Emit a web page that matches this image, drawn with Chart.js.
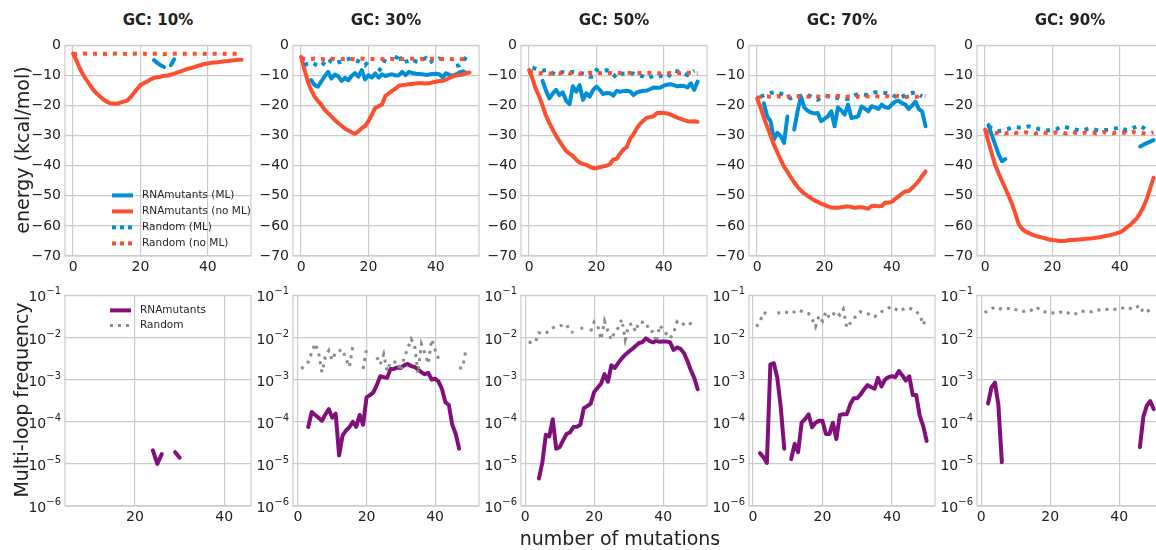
<!DOCTYPE html>
<html>
<head>
<meta charset="utf-8">
<script src="https://cdn.jsdelivr.net/npm/chart.js@4.4.1/dist/chart.umd.min.js"></script>
<style>
  body { margin: 0; width: 1156px; height: 550px; overflow: hidden; background: #fff;
         font-family: "DejaVu Sans", sans-serif; color: #222; position: relative; }
  canvas { position: absolute; }
  .title { position: absolute; font-weight: bold; font-size: 15px; transform: translate(-50%, -50%); white-space: nowrap; }
  .ylab { position: absolute; font-size: 19px; transform: translate(-50%, -50%) rotate(-90deg); white-space: nowrap; }
  .xlab { position: absolute; font-size: 19px; transform: translate(-50%, -50%); white-space: nowrap; }
</style>
</head>
<body>
<script>
// x values: number of mutations
const mutations = [0,1,2,3,4,5,6,7,8,9,10,11,12,13,14,15,16,17,18,19,20,21,22,23,24,25,26,27,28,29,30,
  31,32,33,34,35,36,37,38,39,40,41,42,43,44,45,46,47,48,49,50];
const gcTitles = ["GC: 10%", "GC: 30%", "GC: 50%", "GC: 70%", "GC: 90%"];
const energyTicks = [0, -10, -20, -30, -40, -50, -60, -70];
const freqTicks = [1e-6, 1e-5, 1e-4, 1e-3, 1e-2, 1e-1];
const mutationTicks = [0, 20, 40];

// ---- energy (kcal/mol) ----
const mutantsML10 = [
  null, null, null, null, null, null, null, null, null, null,
  null, null, null, null, null, null, null, null, null, null,
  null, null, null, null, -4.9, -5.8, -6.6, -7.2, null, -6.6,
  -4.6, null, null, null, null, null, null, null, null, null,
  null, null, null, null, null, null, null, null, null, null,
  null];
const mutantsNoML10 = [
  -2.7, -5.0, -7.7, -9.8, -11.5, -13.2, -14.8, -16.0, -17.0, -18.0,
  -18.7, -19.2, -19.3, -19.4, -19.0, -18.7, -18.4, -17.3, -15.9, -14.5,
  -13.2, -12.6, -12.0, -11.3, -10.8, -10.6, -10.4, -10.1, -10.1, -9.7,
  -9.4, -9.0, -8.6, -8.2, -7.8, -7.5, -7.2, -6.8, -6.5, -6.2,
  -6.0, -5.8, -5.7, -5.6, -5.4, -5.3, -5.2, -5.0, -4.9, -4.8,
  -4.8];
const randomML10 = [];
const randomNoML10 = [
  -2.8, -2.9, -2.8, -2.7, -2.8, -2.9, -2.8, -2.8, -2.7, -2.8,
  -2.9, -2.8, -2.8, -2.7, -2.8, -2.8, -2.9, -2.8, -2.8, -2.7,
  -2.8, -2.8, -2.9, -2.8, -2.8, -2.7, -2.8, -2.9, -2.8, -2.8,
  -2.8, -2.7, -2.8, -2.8, -2.9, -2.8, -2.8, -2.8, -2.7, -2.8,
  -2.9, -2.8, -2.8, -2.8, -2.7, -2.8, -2.9, -2.8, -2.8, -2.9,
  -2.9];

const mutantsML30 = [
  null, null, null, -11.5, -13.2, -13.7, -12.0, -10.3, -8.8, -11.0,
  -9.7, -10.2, -11.8, -10.8, -11.6, -10.2, -9.2, -10.4, -8.2, -11.3,
  -9.9, -10.7, -9.3, -10.7, -9.6, -10.2, -9.8, -9.6, -10.0, -9.9,
  -8.8, -9.9, -8.8, -9.2, -9.4, -9.5, -9.6, -9.8, -9.7, -9.5,
  -9.4, -9.6, -10.6, -9.3, -9.8, -10.1, -9.6, -9.0, -8.6, -9.1,
  null];
const mutantsNoML30 = [
  -3.8, -8.0, -12.0, -14.8, -17.0, -18.5, -19.7, -21.4, -22.5, -23.6,
  -24.8, -25.8, -26.7, -27.6, -28.3, -28.9, -29.4, -28.6, -27.5, -26.8,
  -25.2, -23.0, -20.8, -20.2, -19.7, -16.8, -16.0, -15.1, -14.4, -13.4,
  -13.2, -13.1, -12.9, -12.8, -12.7, -12.6, -12.6, -12.7, -12.6, -12.3,
  -12.1, -11.8, -11.8, -11.4, -10.8, -10.4, -10.0, -9.8, -9.7, -9.2,
  -9.0];
const randomML30 = [
  null, -6.6, -6.0, -5.6, -6.2, -6.8, -7.0, -5.5, -4.4, -5.5,
  -6.0, -5.6, -5.4, -5.0, -4.6, -4.2, -4.8, -5.3, -6.0, -6.6,
  -5.2, -4.4, null, -8.6, -7.1, -4.4, -4.5, null, -4.6, -2.7,
  -6.0, -5.4, -5.1, -4.6, -5.3, -5.5, -4.8, -4.2, -5.8, -5.2,
  -5.2, -4.4, -4.6, null, null, null, -6.8, -6.6, -5.6, -3.8,
  null];
const randomNoML30 = [
  -4.3, -4.5, -4.6, -4.5, -4.4, -4.6, -4.5, -4.7, -4.5, -4.4,
  -4.6, -4.5, -4.5, -4.6, -4.4, -4.5, -4.7, -4.5, -4.4, -4.6,
  -4.5, -4.5, -4.6, -4.4, -4.5, -4.7, -4.5, -4.5, -4.6, -4.4,
  -4.5, -4.6, -4.5, -4.4, -4.5, -4.6, -4.5, -4.7, -4.5, -4.4,
  -4.5, -4.6, -4.5, -4.5, -4.4, -4.6, -4.5, -4.5, -4.6, -4.4,
  -4.5];

const mutantsML50 = [
  null, null, null, null, -11.8, -15.0, -17.6, -16.0, -14.8, -16.5,
  -15.6, -18.4, -19.5, -13.6, -15.4, -13.2, -18.1, -15.9, -17.0, -14.8,
  -13.7, -14.8, -16.2, -15.8, -15.9, -16.7, -15.1, -15.4, -15.2, -15.1,
  -15.3, -16.5, -15.6, -15.3, -15.1, -15.0, -14.5, -14.0, -14.1, -14.0,
  -13.4, -13.0, -12.9, -13.2, -13.6, -13.4, -13.5, -14.0, -12.6, -14.8,
  -12.0];
const mutantsNoML50 = [
  -8.2, -11.0, -14.5, -17.0, -20.0, -23.3, -25.8, -28.0, -30.0, -31.8,
  -33.5, -35.1, -36.0, -36.8, -38.0, -39.0, -39.4, -39.7, -40.3, -40.8,
  -40.8, -40.5, -40.2, -40.0, -39.5, -37.9, -37.7, -36.0, -34.6, -33.8,
  -31.0, -29.5, -27.5, -26.0, -25.0, -24.0, -23.8, -23.5, -22.5, -22.4,
  -22.5, -22.6, -23.0, -23.5, -24.0, -24.4, -24.8, -25.2, -25.3, -25.2,
  -25.4];
const randomML50 = [
  null, -7.4, -7.8, -8.2, -8.4, -8.2, -8.4, -9.2, -9.7, -9.2,
  -8.8, -8.8, -9.0, -8.8, -8.9, -9.3, -9.3, -9.6, -10.4, -10.4,
  -8.2, -8.6, -8.4, -8.2, -9.0, -9.7, -10.8, -10.0, -9.3, -9.3,
  -9.3, -9.3, -9.8, -10.1, -10.4, -11.0, -10.5, -10.1, -10.4, -10.1,
  -10.5, -10.8, -9.5, -8.4, -8.6, -8.8, -9.3, -9.9, -9.2, -8.4,
  null];
const randomNoML50 = [
  -8.6, -9.0, -9.2, -9.3, -9.1, -9.2, -9.4, -9.2, -9.1, -9.3,
  -9.2, -9.0, -9.3, -9.2, -9.1, -9.4, -9.2, -9.3, -9.1, -9.2,
  -9.0, -9.2, -9.3, -9.1, -9.2, -9.4, -9.1, -9.2, -9.3, -9.0,
  -9.2, -9.1, -9.3, -9.2, -9.4, -9.2, -9.1, -9.0, -9.2, -9.3,
  -9.2, -9.4, -9.1, -9.2, -9.0, -9.3, -9.2, -9.1, -9.2, -9.3,
  -9.2];

const mutantsML70 = [
  null, null, -19.2, -23.6, -25.2, -31.3, -29.1, -30.2, -32.4, -23.6,
  null, -28.0, -22.0, -17.0, -20.6, -21.7, -22.3, -22.6, -22.5, -25.2,
  -24.4, -23.6, -21.9, -26.9, -20.6, -21.6, -23.0, -19.7, -24.1, -23.9,
  -23.6, -20.3, -21.0, -21.9, -20.2, -20.6, -21.1, -19.7, -20.5, -20.8,
  -19.6, -18.7, -18.4, -19.2, -19.7, -21.1, -20.0, -18.7, -21.1, -22.0,
  -26.9];
const mutantsNoML70 = [
  -17.6, -20.5, -24.0, -27.0, -30.0, -33.0, -35.5, -38.0, -40.3, -42.0,
  -43.8, -45.5, -47.0, -48.2, -49.2, -50.0, -50.8, -51.5, -52.0, -52.6,
  -53.0, -53.5, -53.9, -54.0, -54.0, -53.8, -53.6, -53.5, -53.7, -54.0,
  -53.8, -53.8, -54.0, -54.3, -53.4, -53.3, -53.5, -53.4, -52.2, -52.3,
  -52.0, -51.0, -50.2, -49.3, -48.5, -48.4, -47.4, -46.3, -45.0, -43.4,
  -41.9];
const randomML70 = [
  null, -17.0, -16.6, -16.2, -15.8, -15.6, -15.4, -16.0, -16.5, -17.0,
  -17.6, -17.2, -16.9, -16.7, -16.6, -16.5, -17.0, -17.6, -18.1, -17.4,
  -16.7, -16.8, -17.0, -17.3, -17.5, -17.6, -17.7, -17.8, -17.0, -16.5,
  -16.2, -16.3, -16.4, -16.5, -16.0, -15.6, -15.6, -15.6, -15.8, -16.0,
  -16.2, -17.0, -17.6, -17.1, -16.5, -16.1, -15.8, -15.6, -16.3, -17.0,
  null];
const randomNoML70 = [
  -17.4, -17.2, -17.0, -16.9, -17.1, -17.0, -16.8, -17.1, -17.2, -17.0,
  -16.9, -17.1, -17.0, -17.2, -16.9, -17.0, -17.1, -16.8, -17.0, -17.2,
  -17.0, -16.9, -17.1, -17.0, -16.8, -17.0, -17.2, -17.0, -16.9, -17.1,
  -17.0, -17.2, -16.9, -17.0, -17.1, -16.8, -17.0, -17.2, -17.0, -16.9,
  -17.1, -17.0, -16.8, -17.0, -17.2, -17.0, -16.9, -17.1, -17.0, -16.8,
  -16.9];

const mutantsML90 = [
  null, -26.5, -29.8, -33.0, -36.2, -38.5, -37.8, null, null, null,
  null, null, null, null, null, null, null, null, null, null,
  null, null, null, null, null, null, null, null, null, null,
  null, null, null, null, null, null, null, null, null, null,
  null, null, null, null, null, null, -33.6, -33.0, -32.5, -32.0,
  -31.5];
const mutantsNoML90 = [
  -28.0, -32.0, -36.0, -39.8, -42.5, -45.0, -47.5, -50.0, -52.7, -56.0,
  -59.5, -61.0, -61.9, -62.4, -62.9, -63.3, -63.6, -63.9, -64.2, -64.5,
  -64.7, -64.8, -65.0, -65.0, -64.9, -64.7, -64.7, -64.6, -64.5, -64.4,
  -64.3, -64.2, -64.1, -63.9, -63.8, -63.5, -63.3, -63.1, -62.8, -62.5,
  -62.1, -61.5, -60.5, -59.8, -58.6, -57.5, -55.8, -53.7, -51.0, -47.5,
  -44.0];
const randomML90 = [
  null, -26.9, -27.5, -28.2, -28.5, -28.3, -28.0, -27.7, -27.3, -27.2,
  -27.3, -27.4, -27.2, -26.9, -27.2, -27.6, -27.8, -28.0, -28.3, -28.2,
  -28.1, -28.0, -27.4, -26.9, -27.2, -27.5, -27.6, -28.0, -28.3, -28.2,
  -27.9, -27.6, -27.8, -28.1, -28.3, -28.2, -28.1, -28.0, -27.7, -27.5,
  -27.2, -27.7, -28.3, -27.9, -27.4, -27.0, -26.6, -27.4, -28.2, -28.9,
  null];
const randomNoML90 = [
  -28.5, -28.9, -29.0, -29.2, -28.9, -29.1, -29.3, -29.0, -28.8, -29.1,
  -29.0, -29.2, -28.9, -29.1, -29.0, -29.3, -29.0, -28.8, -29.1, -29.0,
  -29.2, -28.9, -29.1, -29.0, -29.3, -29.0, -28.8, -29.1, -29.0, -29.2,
  -28.9, -29.1, -29.0, -29.3, -29.0, -28.8, -29.1, -29.0, -29.2, -28.9,
  -29.1, -29.0, -29.3, -29.0, -28.8, -29.1, -29.0, -29.2, -29.4, -29.1,
  -29.0];

// ---- multi-loop frequency ----
const loopMutants10 = [
  null, null, null, null, null, null, null, null, null, null,
  null, null, null, null, null, null, null, null, null, null,
  null, null, null, null, 2.1e-5, 1.0e-5, 1.7e-5, null, null, 1.9e-5,
  1.4e-5, null, null, null, null, null, null, null, null, null,
  null, null, null, null, null, null, null, null, null, null,
  null];
const loopRandom10 = [];

const loopMutants30 = [
  null, null, null, 7.5e-5, 1.7e-4, 1.45e-4, 1.25e-4, 1.05e-4, 1.5e-4, 2.0e-4,
  1.25e-4, 1.55e-4, 1.6e-5, 4.7e-5, 6.2e-5, 7.4e-5, 1.0e-4, 7.6e-5, 1.45e-4, 8.5e-5,
  3.8e-4, 4.3e-4, 5.0e-4, 7.5e-4, 1.2e-3, 1.15e-3, 1.1e-3, 1.8e-3, 1.8e-3, 1.95e-3,
  1.9e-3, 2.2e-3, 2.35e-3, 2.1e-3, 2.0e-3, 1.75e-3, 1.5e-3, 1.35e-3, 1.45e-3, 1.0e-3,
  1.05e-3, 9.0e-4, 6.0e-4, 2.9e-4, 2.5e-4, 8.5e-5, 5.2e-5, 2.3e-5, null, null,
  null];
const loopRandom30 = [
  null, 1.8e-3, 2.2e-3, 2.6e-3, 4.4e-3, 7.2e-3, 4.4e-3, 1.5e-3, 3.5e-3, 4.9e-3,
  2.9e-3, 4.5e-3, 4.8e-3, 5.2e-3, 3.1e-3, 2.0e-3, 6.3e-3, null, null, 1.8e-3,
  5.4e-3, null, null, 3.4e-3, 2.3e-3, 4.0e-3, 1.6e-3, 2.6e-3, 2.6e-3, 2.7e-3,
  1.6e-3, 3.4e-3, 5.4e-3, 9.2e-3, 6.8e-3, 1.4e-3, 7.0e-3, 4.3e-3, 2.4e-3, 9.0e-3,
  5.1e-3, 3.1e-3, null, null, null, null, null, 1.9e-3, 1.9e-3, 5.2e-3,
  null];

const loopMutants50 = [
  null, null, null, null, 4.5e-6, 1.1e-5, 4.9e-5, 4.5e-5, 1.15e-4, 2.3e-5,
  2.5e-5, 3.6e-5, 5.1e-5, 5.6e-5, 7.5e-5, 7.6e-5, 8.5e-5, 2.1e-4, 2.35e-4, 2.7e-4,
  5.1e-4, 6.4e-4, 8.0e-4, 1.35e-3, 8.9e-4, 2.2e-3, 1.9e-3, 2.5e-3, 3.2e-3, 3.9e-3,
  4.6e-3, 5.3e-3, 6.3e-3, 7.4e-3, 7.8e-3, 9.6e-3, 8.3e-3, 7.7e-3, 8.3e-3, 7.9e-3,
  8.0e-3, 8.0e-3, 7.7e-3, 5.1e-3, 5.8e-3, 5.4e-3, 4.3e-3, 2.8e-3, 1.7e-3, 1.1e-3,
  5.9e-4];
const loopRandom50 = [
  null, 7.6e-3, 7.7e-3, 7.8e-3, 1.3e-2, 1.25e-2, 1.25e-2, 1.5e-2, 1.7e-2, 1.8e-2,
  1.9e-2, 1.95e-2, 2.05e-2, 1.4e-2, 1.3e-2, null, 1.65e-2, 1.65e-2, null, 1.4e-2,
  2.35e-2, 1.96e-2, 9.0e-3, 2.45e-2, 1.4e-2, 8.8e-3, 1.4e-2, 1.7e-2, 2.7e-2, 8.8e-3,
  1.96e-2, 2.15e-2, 1.38e-2, 2.35e-2, 2.3e-2, 2.3e-2, 1.4e-2, 1.38e-2, 7.7e-3, 1.96e-2,
  1.5e-2, 1.2e-2, 9.6e-3, 1.26e-2, 2.35e-2, 1.96e-2, 2.1e-2, 2.35e-2, 2.1e-2, 1.9e-2,
  null];

const loopMutants70 = [
  null, null, 1.8e-5, 1.45e-5, 1.05e-5, 2.3e-3, 2.45e-3, 1.1e-3, 2.2e-4, 2.3e-5,
  null, 1.3e-5, 3.0e-5, 1.9e-5, 9.5e-5, 1.15e-4, 1.5e-4, 7.4e-5, 9.5e-5, 1.05e-4,
  1.05e-4, 5.1e-5, 5.1e-5, 9.5e-5, 3.9e-5, 1.45e-4, 1.5e-4, 1.5e-4, 2.6e-4, 3.6e-4,
  3.6e-4, 4.5e-4, 5.9e-4, 7.4e-4, 6.6e-4, 6.1e-4, 1.1e-3, 6.9e-4, 1.0e-3, 1.15e-3,
  1.2e-3, 1.15e-3, 1.6e-3, 1.26e-3, 9.5e-4, 1.2e-3, 4.3e-4, 4.3e-4, 1.4e-4, 8.0e-5,
  3.5e-5];
const loopRandom70 = [
  null, 1.8e-2, 2.4e-2, 3.9e-2, 3.7e-2, null, null, 3.8e-2, 3.9e-2, 4.1e-2,
  3.9e-2, 3.7e-2, 4.1e-2, 4.5e-2, 4.2e-2, 3.9e-2, 3.7e-2, 2.8e-2, 1.8e-2, 3.3e-2,
  2.45e-2, 4.1e-2, 2.9e-2, 3.5e-2, 4.2e-2, 3.4e-2, 4.7e-2, 1.7e-2, 2.2e-2, 2.8e-2,
  3.5e-2, 4.1e-2, 3.9e-2, 3.7e-2, 3.4e-2, 3.1e-2, 3.6e-2, 4.1e-2, 4.5e-2, 5.0e-2,
  5.4e-2, 4.8e-2, 4.2e-2, 4.6e-2, 5.0e-2, 4.9e-2, 4.7e-2, 4.1e-2, 3.5e-2, 2.0e-2,
  3.1e-2];

const loopMutants90 = [
  null, null, 2.7e-4, 6.5e-4, 8.5e-4, 2.5e-4, 1.1e-5, null, null, null,
  null, null, null, null, null, null, null, null, null, null,
  null, null, null, null, null, null, null, null, null, null,
  null, null, null, null, null, null, null, null, null, null,
  null, null, null, null, null, null, 2.5e-5, 1.3e-4, 2.4e-4, 3.1e-4,
  2.0e-4];
const loopRandom90 = [
  null, 3.9e-2, 4.3e-2, 4.8e-2, 5.3e-2, 5.0e-2, 4.7e-2, 4.8e-2, 4.9e-2, 5.0e-2,
  4.6e-2, 4.3e-2, 4.2e-2, 4.2e-2, 4.2e-2, 4.7e-2, 5.3e-2, 4.6e-2, 4.1e-2, 4.0e-2,
  3.9e-2, 3.8e-2, 3.7e-2, 4.0e-2, 4.2e-2, 3.9e-2, 3.6e-2, 3.5e-2, 3.9e-2, 4.2e-2,
  4.2e-2, 4.1e-2, 4.1e-2, 4.3e-2, 4.5e-2, 4.6e-2, 4.6e-2, 4.7e-2, 4.7e-2, 4.7e-2,
  4.7e-2, 5.0e-2, 5.3e-2, 5.0e-2, 4.7e-2, 5.2e-2, 5.8e-2, 3.9e-2, 4.2e-2, 4.5e-2,
  4.4e-2];

// colours (fivethirtyeight palette)
const BLUE = "#008fd5", RED = "#fc4f30", PURPLE = "#810f7c", GRAY = "#8b8b8b";
const GRID = "#cbcbcb";

// layout of the 2x5 grid (page pixels)
const colLeft = [65, 293, 521, 749, 977];
const rowTop = [43, 293];
const PLOT_W = 186, PLOT_H = 213;
const PAD_L = 62, PAD_R = 8, PAD_T = 10, PAD_B = 26;
const energyX = { min: -2.4, max: 52.8 };
const freqX = [{ min: 4.3, max: 46 }, { min: -1.45, max: 52.8 }, { min: -1.2, max: 52.7 },
               { min: -1.15, max: 52.4 }, { min: -1.2, max: 52.7 }];

const energyPanels = [
  [mutantsML10, mutantsNoML10, randomML10, randomNoML10],
  [mutantsML30, mutantsNoML30, randomML30, randomNoML30],
  [mutantsML50, mutantsNoML50, randomML50, randomNoML50],
  [mutantsML70, mutantsNoML70, randomML70, randomNoML70],
  [mutantsML90, mutantsNoML90, randomML90, randomNoML90]
];
const loopPanels = [
  [loopMutants10, loopRandom10], [loopMutants30, loopRandom30], [loopMutants50, loopRandom50],
  [loopMutants70, loopRandom70], [loopMutants90, loopRandom90]
];

Chart.defaults.font.family = "'DejaVu Sans', sans-serif";
Chart.defaults.font.size = 14;
Chart.defaults.color = "#222";

const toPoints = (ys) => ys.map((y, i) => ({ x: mutations[i], y: y }));

// light frame around each plot area
const framePlugin = {
  id: "frame",
  beforeDatasetsDraw(chart) {
    const a = chart.chartArea, ctx = chart.ctx;
    ctx.save();
    ctx.strokeStyle = GRID;
    ctx.lineWidth = 1.2;
    ctx.strokeRect(a.left, a.top, a.right - a.left, a.bottom - a.top);
    ctx.restore();
  }
};

// "10" with a raised, smaller exponent, like mathtext labels
const powerLabels = {
  id: "powerLabels",
  afterDraw(chart, args, opts) {
    if (!opts.on) return;
    const ctx = chart.ctx, s = chart.scales.y, right = chart.chartArea.left - 4;
    ctx.save();
    ctx.fillStyle = "#222";
    ctx.textBaseline = "alphabetic";
    ctx.textAlign = "left";
    freqTicks.forEach(v => {
      const y = s.getPixelForValue(v) + 6;
      const exp = "\u2212" + String(-Math.round(Math.log10(v)));
      ctx.font = "10px 'DejaVu Sans'";
      const ew = ctx.measureText(exp).width;
      ctx.font = "14px 'DejaVu Sans'";
      const bw = ctx.measureText("10").width;
      ctx.fillText("10", right - ew - bw, y);
      ctx.font = "10px 'DejaVu Sans'";
      ctx.fillText(exp, right - ew, y - 7);
    });
    ctx.restore();
  }
};

// legend drawn inside the first panel of each row
const legendPlugin = {
  id: "panelLegend",
  afterDraw(chart, args, opts) {
    if (!opts.items) return;
    const ctx = chart.ctx, a = chart.chartArea;
    ctx.save();
    ctx.font = "10.5px 'DejaVu Sans'";
    ctx.textBaseline = "middle";
    opts.items.forEach((it, i) => {
      const y = a.top + opts.y + i * opts.gap;
      ctx.beginPath();
      ctx.strokeStyle = it.color;
      ctx.lineWidth = it.width;
      ctx.setLineDash(it.dash || []);
      ctx.lineCap = "butt";
      ctx.moveTo(a.left + opts.x, y);
      ctx.lineTo(a.left + opts.x + 21, y);
      ctx.stroke();
      ctx.setLineDash([]);
      ctx.fillStyle = "#262626";
      ctx.fillText(it.label, a.left + opts.x + 30, y);
    });
    ctx.restore();
  }
};

function solid(data, color, order) {
  return { data: toPoints(data), borderColor: color, borderWidth: 4, pointRadius: 0,
           borderCapStyle: "round", borderJoinStyle: "round", tension: 0, order: order };
}
function dotted(data, color, width, dash, order) {
  return { data: toPoints(data), borderColor: color, borderWidth: width, pointRadius: 0,
           borderDash: dash, borderCapStyle: "butt", borderJoinStyle: "miter", tension: 0, order: order };
}

function makeCanvas(col, row) {
  const c = document.createElement("canvas");
  const w = PAD_L + PLOT_W + PAD_R, h = PAD_T + PLOT_H + PAD_B;
  c.width = w; c.height = h;
  c.style.left = (colLeft[col] - PAD_L) + "px";
  c.style.top = (rowTop[row] - PAD_T) + "px";
  c.style.width = w + "px"; c.style.height = h + "px";
  document.body.appendChild(c);
  return c;
}

function scaleX(range, xPad) {
  return {
    type: "linear", min: range.min, max: range.max,
    afterBuildTicks: (s) => { s.ticks = mutationTicks.filter(v => v >= range.min && v <= range.max).map(v => ({ value: v })); },
    afterFit: (s) => { s.height = PAD_B; },
    ticks: { padding: xPad, maxRotation: 0, autoSkip: false },
    grid: { color: GRID, lineWidth: 1.2, drawTicks: false },
    border: { display: false }
  };
}

energyPanels.forEach((p, col) => {
  const [ml, noMl, rndMl, rndNoMl] = p;
  new Chart(makeCanvas(col, 0), {
    type: "line",
    data: { datasets: [
      solid(ml, BLUE, 3),
      solid(noMl, RED, 2),
      dotted(rndMl, BLUE, 4, [4, 6], 1),
      dotted(rndNoMl, RED, 4, [4, 6], 0)
    ] },
    options: {
      responsive: false, animation: false, devicePixelRatio: 1,
      layout: { padding: { top: PAD_T, right: PAD_R, left: 0, bottom: 0 } },
      plugins: {
        legend: { display: false }, tooltip: { enabled: false },
        panelLegend: col === 0 ? {
          x: 47, y: 150, gap: 16,
          items: [
            { label: "RNAmutants (ML)", color: BLUE, width: 4 },
            { label: "RNAmutants (no ML)", color: RED, width: 4 },
            { label: "Random (ML)", color: BLUE, width: 4, dash: [4, 4] },
            { label: "Random (no ML)", color: RED, width: 4, dash: [4, 4] }
          ]
        } : {}
      },
      scales: {
        x: scaleX(energyX, 3),
        y: {
          type: "linear", min: -70, max: 0,
          afterBuildTicks: (s) => { s.ticks = energyTicks.map(v => ({ value: v })); },
          afterFit: (s) => { s.width = PAD_L; },
          ticks: { padding: 4, callback: (v) => String(v).replace("-", "\u2212") },
          grid: { color: GRID, lineWidth: 1.2, drawTicks: false },
          border: { display: false }
        }
      }
    },
    plugins: [framePlugin, legendPlugin]
  });
});

loopPanels.forEach((p, col) => {
  const [mut, rnd] = p;
  new Chart(makeCanvas(col, 1), {
    type: "line",
    data: { datasets: [
      solid(mut, PURPLE, 1),
      dotted(rnd, GRAY, 3, [3, 5], 0)
    ] },
    options: {
      responsive: false, animation: false, devicePixelRatio: 1,
      layout: { padding: { top: PAD_T, right: PAD_R, left: 0, bottom: 0 } },
      plugins: {
        legend: { display: false }, tooltip: { enabled: false },
        powerLabels: { on: true },
        panelLegend: col === 0 ? {
          x: 45, y: 15, gap: 15,
          items: [
            { label: "RNAmutants", color: PURPLE, width: 4 },
            { label: "Random", color: GRAY, width: 3, dash: [3, 5] }
          ]
        } : {}
      },
      scales: {
        x: scaleX(freqX[col], 3),
        y: {
          type: "logarithmic", min: 1e-6, max: 1e-1,
          afterBuildTicks: (s) => { s.ticks = freqTicks.map(v => ({ value: v })); },
          afterFit: (s) => { s.width = PAD_L; },
          ticks: { padding: 4, callback: () => "" },
          grid: { color: GRID, lineWidth: 1.2, drawTicks: false },
          border: { display: false }
        }
      }
    },
    plugins: [framePlugin, legendPlugin, powerLabels]
  });
});

// titles and axis labels
gcTitles.forEach((t, col) => {
  const d = document.createElement("div");
  d.className = "title";
  d.textContent = t;
  d.style.left = (colLeft[col] + PLOT_W / 2) + "px";
  d.style.top = "20px";
  document.body.appendChild(d);
});
[["energy (kcal/mol)", 22, 150, "ylab"], ["Multi-loop frequency", 21, 400, "ylab"],
 ["number of mutations", 620, 538, "xlab"]].forEach(([t, x, y, cls]) => {
  const d = document.createElement("div");
  d.className = cls;
  d.textContent = t;
  d.style.left = x + "px";
  d.style.top = y + "px";
  document.body.appendChild(d);
});
</script>
</body>
</html>
